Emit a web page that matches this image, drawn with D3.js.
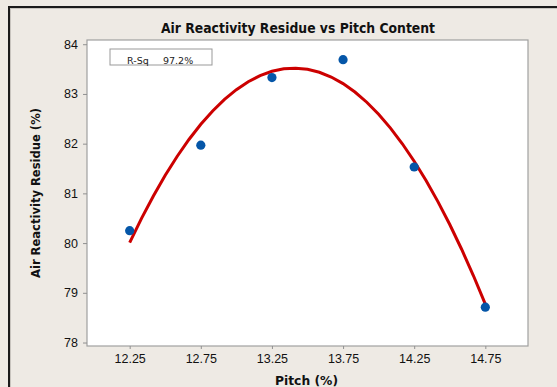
<!DOCTYPE html>
<html>
<head>
<meta charset="utf-8">
<script src="https://cdn.jsdelivr.net/npm/d3@7"></script>
<style>
html,body{margin:0;padding:0;background:#EEEAE4;}
svg{display:block;}
</style>
</head>
<body>
<svg id="chart" width="557" height="387"></svg>
<script>
// Data
const pitch = [12.25, 12.75, 13.25, 13.75, 14.25, 14.75];
const residue = [80.25, 81.97, 83.33, 83.69, 81.53, 78.71];
const xTicks = [12.25, 12.75, 13.25, 13.75, 14.25, 14.75];
const yTicks = [78, 79, 80, 81, 82, 83, 84];
const title = "Air Reactivity Residue vs Pitch Content";
const xLabel = "Pitch (%)";
const yLabel = "Air Reactivity Residue (%)";
const rsqLabel = "R-Sq";
const rsqValue = "97.2%";

const svg = d3.select("#chart");
const W = 557, H = 387;
const plot = {left: 87, right: 528, top: 40, bottom: 346};

svg.append("rect").attr("x",0).attr("y",0).attr("width",W).attr("height",H).attr("fill","#EEEAE4");
// outer frame (left & top)
svg.append("rect").attr("x",8).attr("y",6).attr("width",W).attr("height",2).attr("fill","#1a1a1a");
svg.append("rect").attr("x",8).attr("y",6).attr("width",2).attr("height",H).attr("fill","#1a1a1a");
svg.append("rect").attr("x",10).attr("y",8).attr("width",W).attr("height",1).attr("fill","#c8c4be");
svg.append("rect").attr("x",10).attr("y",8).attr("width",1).attr("height",H).attr("fill","#c8c4be");

const x = d3.scaleLinear().domain([11.95, 15.05]).range([plot.left, plot.right]);
const y = d3.scaleLinear().domain([77.93, 84.085]).range([plot.bottom, plot.top]);

svg.append("rect").attr("x",plot.left).attr("y",plot.top)
  .attr("width",plot.right-plot.left).attr("height",plot.bottom-plot.top)
  .attr("fill","#fff").attr("stroke","#A0A0A0").attr("stroke-width",1.2);

// axes
const xAxis = svg.append("g").attr("transform",`translate(0,${plot.bottom})`)
  .call(d3.axisBottom(x).tickValues(xTicks).tickFormat(d3.format(".2f")).tickSize(3).tickPadding(5));
const yAxis = svg.append("g").attr("transform",`translate(${plot.left},0)`)
  .call(d3.axisLeft(y).tickValues(yTicks).tickFormat(d3.format("d")).tickSize(4).tickPadding(5));
[xAxis,yAxis].forEach(g=>{
  g.select(".domain").remove();
  g.selectAll(".tick line").attr("stroke","#909090");
  g.selectAll(".tick text").attr("fill","#111").style("font-family","'Liberation Sans',Arial,sans-serif").style("font-size","12.5px");
});

// quadratic least squares fit
function quadFit(xs, ys){
  const n = xs.length;
  let s = [0,0,0,0,0], t=[0,0,0];
  for(let i=0;i<n;i++){
    const xi=xs[i], yi=ys[i];
    for(let k=0;k<5;k++) s[k]+=Math.pow(xi,k);
    for(let k=0;k<3;k++) t[k]+=Math.pow(xi,k)*yi;
  }
  const A=[[s[0],s[1],s[2]],[s[1],s[2],s[3]],[s[2],s[3],s[4]]];
  const b=t.slice();
  for(let i=0;i<3;i++){
    let p=i; for(let r=i+1;r<3;r++) if(Math.abs(A[r][i])>Math.abs(A[p][i])) p=r;
    [A[i],A[p]]=[A[p],A[i]]; [b[i],b[p]]=[b[p],b[i]];
    for(let r=i+1;r<3;r++){const f=A[r][i]/A[i][i]; for(let c=i;c<3;c++) A[r][c]-=f*A[i][c]; b[r]-=f*b[i];}
  }
  const c=[0,0,0];
  for(let i=2;i>=0;i--){let v=b[i]; for(let k=i+1;k<3;k++) v-=A[i][k]*c[k]; c[i]=v/A[i][i];}
  return c;
}
const coef = quadFit(pitch, residue);
const x0 = d3.min(pitch), x1 = d3.max(pitch);
const fitX = d3.range(0, 31).map(i => x0 + (x1-x0)*i/30);
const fitPts = fitX.map(v => [v, coef[0]+coef[1]*v+coef[2]*v*v]);

svg.append("path").datum(fitPts)
  .attr("fill","none").attr("stroke","#CC0000").attr("stroke-width",3)
  .attr("d", d3.line().x(d=>x(d[0])).y(d=>y(d[1])));

svg.selectAll("circle.pt").data(pitch.map((p,i)=>[p,residue[i]])).enter()
  .append("circle").attr("class","pt")
  .attr("cx",d=>x(d[0])).attr("cy",d=>y(d[1])).attr("r",4.6).attr("fill","#0556A8");

// R-Sq box
svg.append("rect").attr("x",110).attr("y",49).attr("width",102).attr("height",16)
  .attr("fill","#fff").attr("stroke","#999").attr("stroke-width",1);
svg.append("text").attr("x",127).attr("y",64).text(rsqLabel)
  .style("font-family","'DejaVu Sans',Tahoma,sans-serif").style("font-size","9.5px").attr("fill","#222");
svg.append("text").attr("x",163).attr("y",64).text(rsqValue)
  .style("font-family","'DejaVu Sans',Tahoma,sans-serif").style("font-size","9.5px").attr("fill","#222");

// title and labels
svg.append("text").attr("x",298).attr("y",32.5).attr("text-anchor","middle").text(title)
  .style("font-family","'DejaVu Sans',Tahoma,sans-serif").style("font-weight","bold").style("font-size","14.5px")
  .attr("textLength",274).attr("lengthAdjust","spacingAndGlyphs").attr("fill","#111");
svg.append("text").attr("x",306.5).attr("y",385).attr("text-anchor","middle").text(xLabel)
  .style("font-family","'DejaVu Sans',Tahoma,sans-serif").style("font-weight","bold").style("font-size","13px")
  .attr("textLength",63).attr("lengthAdjust","spacingAndGlyphs").attr("fill","#111");
svg.append("text").attr("transform","translate(40,193) rotate(-90)").attr("text-anchor","middle").text(yLabel)
  .style("font-family","'DejaVu Sans',Tahoma,sans-serif").style("font-weight","bold").style("font-size","13px")
  .attr("textLength",170).attr("lengthAdjust","spacingAndGlyphs").attr("fill","#111");
</script>
</body>
</html>
